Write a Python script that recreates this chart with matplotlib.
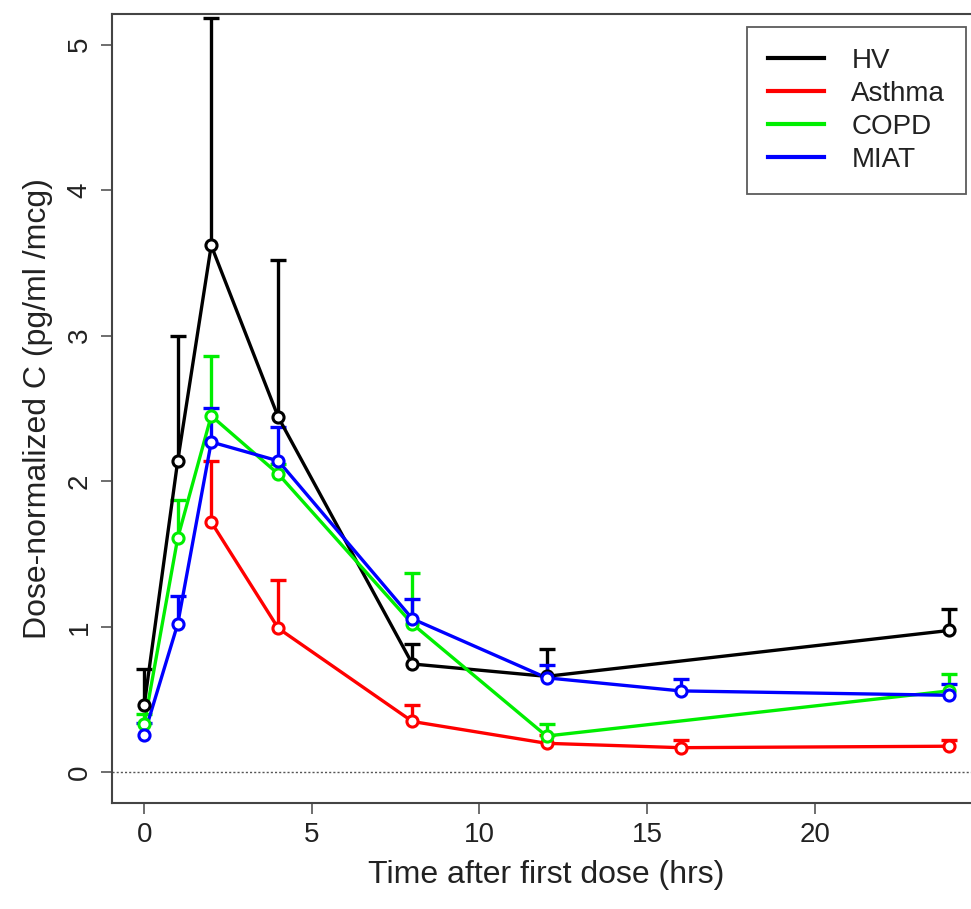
import numpy as np
import matplotlib
matplotlib.use("Agg")
import matplotlib.pyplot as plt
from matplotlib.lines import Line2D

plt.rcParams['font.family'] = ['Liberation Sans', 'DejaVu Sans']

# mean and mean+SD
t_hv = [0, 1, 2, 4, 8, 12, 24]
hv = [0.46, 2.14, 3.62, 2.44, 0.745, 0.66, 0.975]
hv_top = [0.71, 3.00, 5.18, 3.52, 0.88, 0.85, 1.12]

t_asthma = [2, 4, 8, 12, 16, 24]
asthma = [1.72, 0.99, 0.35, 0.20, 0.17, 0.18]
asthma_top = [2.14, 1.325, 0.465, 0.26, 0.22, 0.22]

t_copd = [0, 1, 2, 4, 8, 12, 24]
copd = [0.33, 1.61, 2.45, 2.05, 1.02, 0.25, 0.56]
copd_top = [0.40, 1.87, 2.86, 2.12, 1.37, 0.33, 0.675]

t_miat = [0, 1, 2, 4, 8, 12, 16, 24]
miat = [0.26, 1.02, 2.27, 2.14, 1.055, 0.65, 0.56, 0.53]
miat_top = [0.34, 1.21, 2.50, 2.37, 1.19, 0.74, 0.64, 0.605]

groups = ["HV", "Asthma", "COPD", "MIAT"]
colors = ["#000000", "#ff0000", "#00ee00", "#0000ff"]

W, H = 971, 909
fig = plt.figure(figsize=(W / 100, H / 100), dpi=100)
ax = fig.add_axes([112 / W, (H - 803) / H, (981 - 112) / W, (803 - 14) / H])

series = [(t_hv, hv, hv_top), (t_asthma, asthma, asthma_top),
          (t_copd, copd, copd_top), (t_miat, miat, miat_top)]

ax.axhline(0, color="#555555", lw=1, ls=(0, (1.5, 1.5)), zorder=1)

for (t, y, top), c in zip(series, colors):
    ax.vlines(t, y, top, color=c, lw=2.4, zorder=2)
    ax.plot(t, top, ls="none", marker="_", ms=12, mew=2.4, color=c, zorder=2)
    ax.plot(t, y, color=c, lw=2.4, zorder=3)
    ax.plot(t, y, ls="none", marker="o", ms=8, mew=2.2, mec=c, mfc="white", zorder=4)

ax.set_xlim(-0.96, 24.96)
ax.set_ylim(-0.21, 5.21)
ax.set_xticks([0, 5, 10, 15, 20])
ax.set_yticks([0, 1, 2, 3, 4, 5])
ax.tick_params(direction="out", length=8, width=1.2, colors="#555555",
               labelcolor="#222222", labelsize=20, pad=6)
ax.tick_params(axis="y", labelrotation=90)
for lab in ax.get_yticklabels():
    lab.set_va("center")
for s in ax.spines.values():
    s.set_color("#444444")
    s.set_linewidth(1.5)

ax.set_xlabel("Time after first dose (hrs)", fontsize=23, color="#222222", labelpad=8)
ax.set_ylabel("Dose-normalized C (pg/ml /mcg)", fontsize=23, color="#222222", labelpad=10)

handles = [Line2D([0], [0], color=c, lw=3) for c in colors]
leg = ax.legend(handles, groups, loc="upper right",
                bbox_to_anchor=(966 / W, (H - 27) / H), bbox_transform=fig.transFigure,
                fontsize=20, frameon=True, fancybox=False, borderpad=0.75,
                handlelength=2.0, handletextpad=1.0, labelspacing=0.25,
                borderaxespad=0)
leg.get_frame().set_edgecolor("#333333")
leg.get_frame().set_linewidth(1.3)
for txt in leg.get_texts():
    txt.set_color("#222222")

fig.savefig("out.png", dpi=100)
